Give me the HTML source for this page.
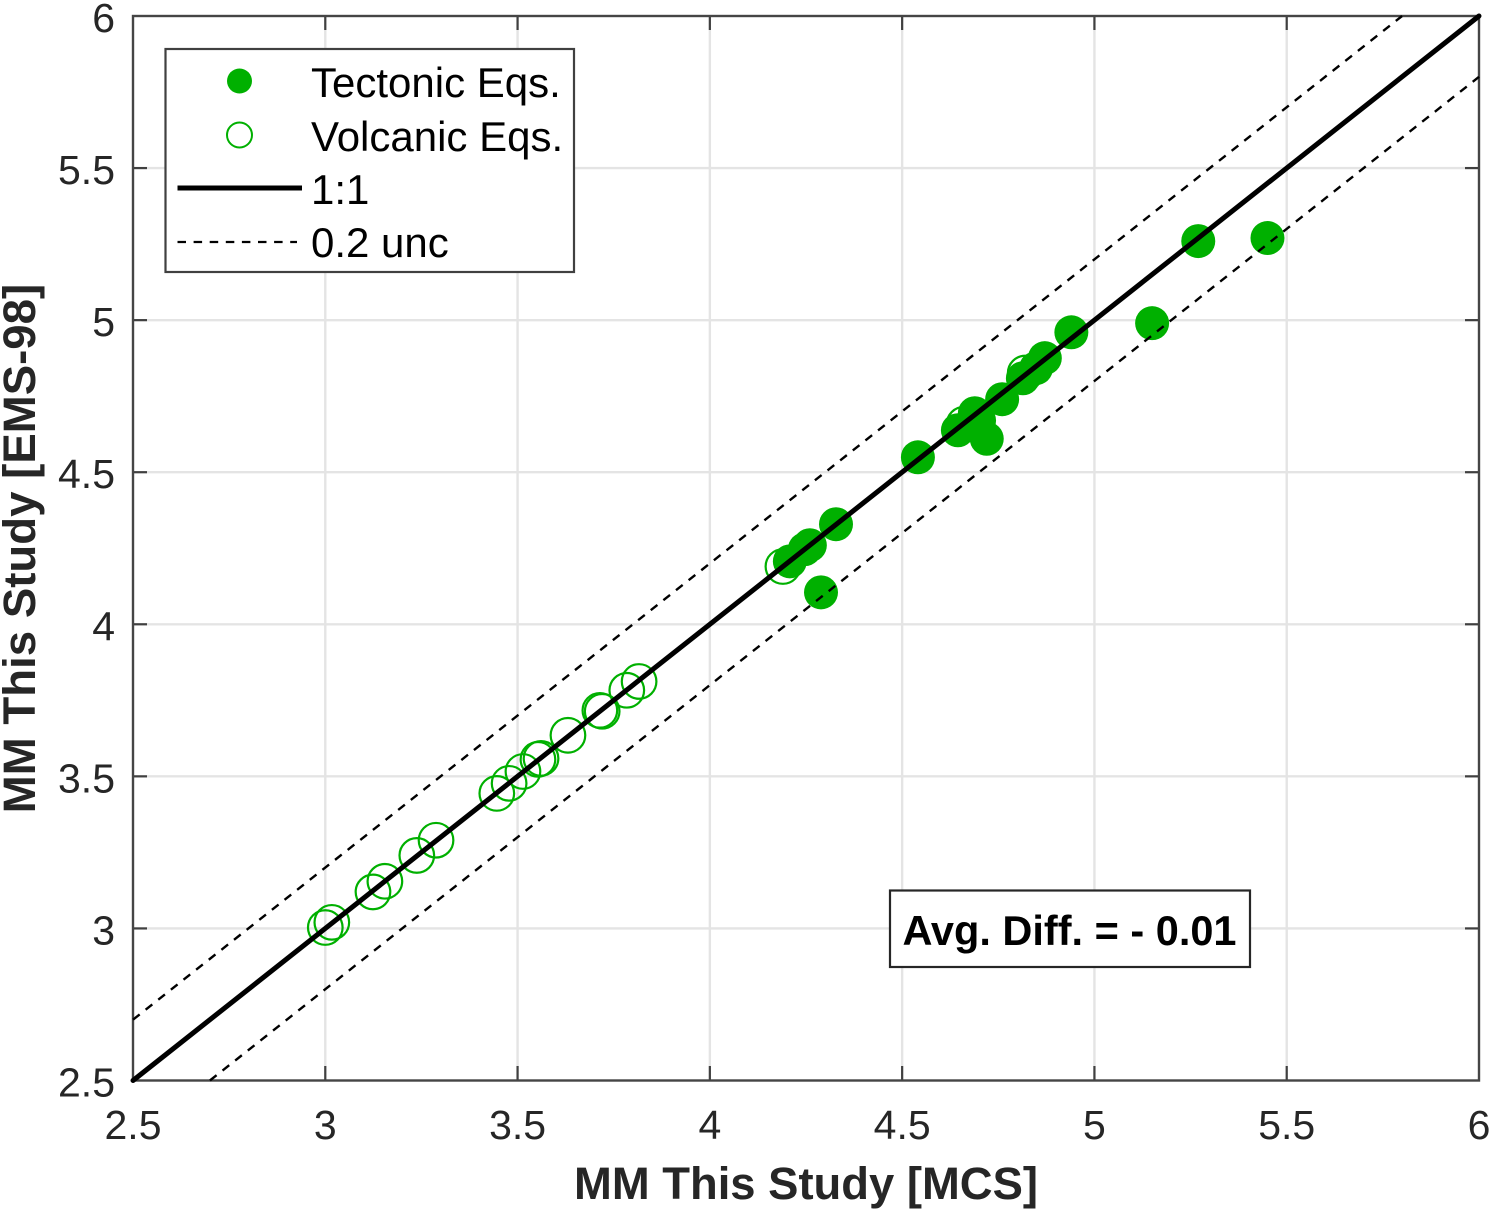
<!DOCTYPE html>
<html lang="en">
<head>
<meta charset="utf-8">
<title>MM This Study: MCS vs EMS-98</title>
<style>
html,body{margin:0;padding:0;background:#fff;}
svg{display:block;font-family:"Liberation Sans",Arial,sans-serif;}
.tick{font-size:41px;fill:#262626;}
.leg{font-size:42px;fill:#000;}
</style>
</head>
<body>
<svg id="chart" xmlns="http://www.w3.org/2000/svg" width="1491" height="1211" viewBox="0 0 1491 1211">
  <g id="grid"></g>
  <g id="ticks"></g>
  <rect x="133" y="16" width="1346" height="1064.5" fill="none" stroke="#454545" stroke-width="2.4"></rect>
  <g id="labels"></g>
  <g id="volcanic"></g>
  <g id="tectonic"></g>
  <g id="lines"></g>
  <text x="806" y="1199" text-anchor="middle" font-size="45.4" font-weight="bold" fill="#262626">MM This Study [MCS]</text>
  <text transform="translate(35,548.5) rotate(-90)" text-anchor="middle" font-size="45.6" font-weight="bold" fill="#262626">MM This Study [EMS-98]</text>

  <g>
    <rect x="165.5" y="49" width="408.5" height="223" fill="#fff" stroke="#404040" stroke-width="2.2"></rect>
    <circle cx="239.5" cy="81" r="12.5" fill="#00b000"></circle>
    <text class="leg" x="311" y="97">Tectonic Eqs.</text>
    <circle cx="239.5" cy="135" r="12.5" fill="none" stroke="#00b000" stroke-width="2"></circle>
    <text class="leg" x="311" y="151">Volcanic Eqs.</text>
    <line x1="177.5" y1="188" x2="302" y2="188" stroke="#000" stroke-width="5"></line>
    <text class="leg" x="311" y="204">1:1</text>
    <line x1="177.5" y1="242" x2="297" y2="242" stroke="#000" stroke-width="2.2" stroke-dasharray="8.5 7.6"></line>
    <text class="leg" x="311" y="257">0.2 unc</text>
  </g>

  <g>
    <rect x="890" y="890.5" width="360" height="76.5" fill="#fff" stroke="#262626" stroke-width="2.2"></rect>
    <text x="902.5" y="945" font-size="41.5" font-weight="bold" fill="#000">Avg. Diff. = - 0.01</text>
  </g>
</svg>
<script>
var xTickValues = [2.5, 3, 3.5, 4, 4.5, 5, 5.5, 6];
var yTickValues = [2.5, 3, 3.5, 4, 4.5, 5, 5.5, 6];
var xTickLabels = ['2.5', '3', '3.5', '4', '4.5', '5', '5.5', '6'];
var yTickLabels = ['2.5', '3', '3.5', '4', '4.5', '5', '5.5', '6'];
var volcanicX = [3.00, 3.017, 3.124, 3.155, 3.238, 3.288, 3.446, 3.478, 3.514, 3.553, 3.561, 3.631, 3.714, 3.72, 3.784, 3.816, 4.19, 4.661, 4.82];
var volcanicY = [3.003, 3.02, 3.12, 3.155, 3.24, 3.29, 3.444, 3.477, 3.516, 3.556, 3.559, 3.635, 3.717, 3.714, 3.783, 3.812, 4.19, 4.658, 4.826];
var tectonicX = [4.208, 4.247, 4.26, 4.328, 4.289, 4.541, 4.645, 4.689, 4.70, 4.72, 4.76, 4.814, 4.848, 4.871, 4.94, 5.15, 5.27, 5.45];
var tectonicY = [4.207, 4.247, 4.26, 4.329, 4.105, 4.549, 4.638, 4.694, 4.67, 4.61, 4.74, 4.809, 4.842, 4.875, 4.96, 4.99, 5.26, 5.27];
var oneToOneX = [2.5, 6];
var oneToOneY = [2.5, 6];
var upperBoundX = [2.5, 5.8];
var upperBoundY = [2.7, 6];
var lowerBoundX = [2.7, 6];
var lowerBoundY = [2.5, 5.8];

var NS = 'http://www.w3.org/2000/svg';
function xScale(v) { return 133 + (v - 2.5) * (1346 / 3.5); }
function yScale(v) { return 1080.5 - (v - 2.5) * (1064.5 / 3.5); }
function make(tag, attrs, parent) {
  var el = document.createElementNS(NS, tag);
  for (var k in attrs) { el.setAttribute(k, attrs[k]); }
  parent.appendChild(el);
  return el;
}
var gridG = document.getElementById('grid');
var ticksG = document.getElementById('ticks');
var labelsG = document.getElementById('labels');
var volcanicG = document.getElementById('volcanic');
var tectonicG = document.getElementById('tectonic');
var linesG = document.getElementById('lines');

xTickValues.forEach(function (v, i) {
  var x = xScale(v);
  if (i > 0 && i < xTickValues.length - 1) {
    var g = make('line', { x1: x, y1: 16, x2: x, y2: 1080, stroke: '#e4e4e4', 'stroke-width': 2.4 }, gridG);
    
    
    var t1 = make('line', { x1: x, y1: 1080, x2: x, y2: 1066, stroke: '#404040', 'stroke-width': 2.2 }, ticksG);
    
    
    var t2 = make('line', { x1: x, y1: 16, x2: x, y2: 30, stroke: '#404040', 'stroke-width': 2.2 }, ticksG);
    
    
  }
  var lab = make('text', { x: x, y: 1139, 'text-anchor': 'middle', 'class': 'tick' }, labelsG);
  
  
  lab.textContent = xTickLabels[i];
});

yTickValues.forEach(function (v, i) {
  var y = yScale(v);
  if (i > 0 && i < yTickValues.length - 1) {
    var g = make('line', { x1: 133, y1: y, x2: 1479, y2: y, stroke: '#e4e4e4', 'stroke-width': 2.4 }, gridG);
    
    
    var t1 = make('line', { x1: 133, y1: y, x2: 147, y2: y, stroke: '#404040', 'stroke-width': 2.2 }, ticksG);
    
    
    var t2 = make('line', { x1: 1479, y1: y, x2: 1465, y2: y, stroke: '#404040', 'stroke-width': 2.2 }, ticksG);
    
    
  }
  var lab = make('text', { x: 115, y: y + 16, 'text-anchor': 'end', 'class': 'tick' }, labelsG);
  
  
  lab.textContent = yTickLabels[i];
});

volcanicX.forEach(function (v, i) {
  var c = make('circle', { cx: xScale(v), cy: yScale(volcanicY[i]), r: 17.3, fill: 'none', stroke: '#00b000', 'stroke-width': 2.2 }, volcanicG);
  
  
});

tectonicX.forEach(function (v, i) {
  var c = make('circle', { cx: xScale(v), cy: yScale(tectonicY[i]), r: 17, fill: '#00b000' }, tectonicG);
  
  
});

var upper = make('line', { x1: xScale(upperBoundX[0]), y1: yScale(upperBoundY[0]), x2: xScale(upperBoundX[1]), y2: yScale(upperBoundY[1]), stroke: '#000', 'stroke-width': 2.4, 'stroke-dasharray': '8.5 7.6' }, linesG);


var lower = make('line', { x1: xScale(lowerBoundX[0]), y1: yScale(lowerBoundY[0]), x2: xScale(lowerBoundX[1]), y2: yScale(lowerBoundY[1]), stroke: '#000', 'stroke-width': 2.4, 'stroke-dasharray': '8.5 7.6' }, linesG);


var identity = make('line', { x1: xScale(oneToOneX[0]), y1: yScale(oneToOneY[0]), x2: xScale(oneToOneX[1]), y2: yScale(oneToOneY[1]), stroke: '#000', 'stroke-width': 5, 'stroke-linecap': 'round' }, linesG);


</script>
</body>
</html>
